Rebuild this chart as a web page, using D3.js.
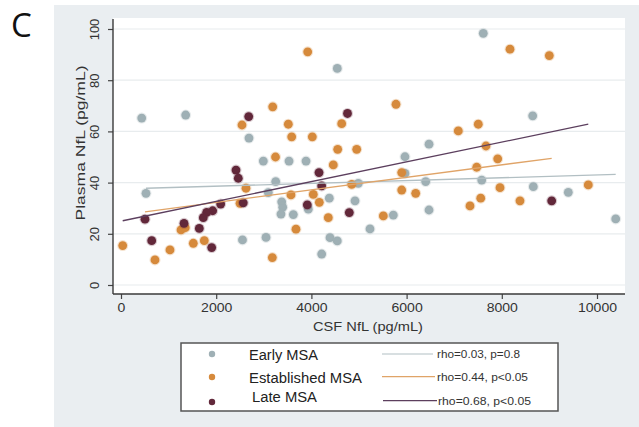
<!DOCTYPE html>
<html>
<head>
<meta charset="utf-8">
<script src="https://cdn.jsdelivr.net/npm/d3@7"></script>
<style>
  html, body { margin: 0; padding: 0; background: #ffffff; }
  svg { display: block; font-family: "Liberation Sans", Arial, sans-serif; }
</style>
</head>
<body>
<svg id="chart" width="639" height="427"></svg>
<script>
// CSF NfL (x, pg/mL) against plasma NfL (y, pg/mL), one list per disease stage
const earlyMSA = [
  [435, 65.2], [1359, 66.4], [525, 35.8], [2689, 57.4], [4544, 84.6], [7611, 98.3],
  [8649, 66.1], [6471, 55.0], [5966, 50.1], [2990, 48.4], [3530, 48.4], [3887, 48.4],
  [3250, 40.4], [3095, 36.1], [3376, 32.5], [3397, 30.4], [3361, 27.7], [3620, 27.5],
  [3935, 29.6], [4376, 33.9], [4916, 32.9], [4986, 39.7], [5966, 43.6], [6401, 40.4],
  [6471, 29.3], [5721, 27.3], [5231, 21.9], [4391, 18.5], [4544, 17.2], [4216, 12.1],
  [2552, 17.6], [3046, 18.6], [7578, 41.0], [8662, 38.4], [9397, 36.2], [10393, 25.8]
];
const establishedMSA = [
  [3922, 91.1], [5777, 70.6], [4636, 63.0], [3515, 62.8], [3586, 57.9], [4019, 57.9],
  [4552, 53.0], [4952, 53.0], [3187, 69.6], [2542, 62.5], [3246, 50.0], [8172, 92.1],
  [8998, 89.6], [7086, 60.2], [7506, 62.8], [7668, 54.3], [7914, 49.3], [7473, 46.0],
  [7962, 38.0], [9817, 39.1], [7557, 33.9], [8382, 32.9], [7332, 30.9], [5897, 43.9],
  [5897, 37.1], [6191, 35.8], [5511, 27.0], [4847, 39.3], [4460, 46.9], [3571, 35.2],
  [4040, 35.4], [4166, 32.3], [4355, 26.3], [3676, 21.8], [3179, 10.7], [2626, 37.8],
  [2500, 31.9], [1261, 21.5], [1350, 22.4], [1750, 17.3], [1519, 16.3], [36, 15.4],
  [1029, 13.7], [714, 9.8]
];
const lateMSA = [
  [2683, 65.8], [4758, 67.0], [4160, 43.9], [4216, 38.7], [3914, 31.3], [4796, 28.3],
  [9048, 32.9], [2416, 44.9], [2464, 41.7], [2569, 32.1], [2094, 31.6], [1926, 29.0],
  [1800, 28.4], [1729, 26.3], [504, 25.7], [1324, 24.1], [1645, 22.1], [645, 17.3],
  [1905, 14.6]
];

// Linear fit segments: [x0, y0, x1, y1]
const fitEarly = [525, 37.8, 10393, 43.2];
const fitEstablished = [504, 28.6, 9048, 49.5];
const fitLate = [36, 25.1, 9817, 62.8];

const groupNames = ["Early MSA", "Established MSA", "Late MSA"];
const fitLabels = ["rho=0.03, p=0.8", "rho=0.44, p<0.05", "rho=0.68, p<0.05"];
const xTicks = [0, 2000, 4000, 6000, 8000, 10000];
const yTicks = [0, 20, 40, 60, 80, 100];

const colEarly = "#9fb0b5";
const colEst = "#d68a3c";
const colLate = "#62283a";
const lineEarly = "#b2bfc3";
const lineEst = "#e0a468";
const lineLate = "#5c3f5e";

const svg = d3.select("#chart");

// graph region and plot region
svg.append("rect").attr("x", 54).attr("y", 5).attr("width", 585).attr("height", 422).attr("fill", "#eaeef1");
const plot = { left: 113, right: 625, top: 18, bottom: 294 };
svg.append("rect").attr("x", plot.left).attr("y", plot.top)
  .attr("width", plot.right - plot.left).attr("height", plot.bottom - plot.top).attr("fill", "#ffffff");

const x = d3.scaleLinear().domain([0, 10000]).range([121, 597]);
const y = d3.scaleLinear().domain([0, 100]).range([285, 29]);

// horizontal grid
svg.append("g").selectAll("line").data(yTicks).join("line")
  .attr("x1", plot.left).attr("x2", plot.right)
  .attr("y1", d => y(d)).attr("y2", d => y(d))
  .attr("stroke", "#e8ecee").attr("stroke-width", 1.2);

// y axis
const yAxis = svg.append("g").attr("transform", `translate(${plot.left},0)`)
  .call(d3.axisLeft(y).tickValues(yTicks).tickSize(5).tickSizeOuter(0));
yAxis.select(".domain").remove();
yAxis.selectAll(".tick line").attr("stroke", "#444").attr("stroke-width", 1.2);
yAxis.selectAll(".tick text")
  .attr("x", 0).attr("dy", "0.35em")
  .attr("transform", "translate(-18,0) rotate(-90)")
  .attr("text-anchor", "middle")
  .attr("textLength", d => String(d).length * 7.2).attr("lengthAdjust", "spacingAndGlyphs")
  .attr("fill", "#333").style("font-size", "12px").style("font-family", "Liberation Sans, Arial, sans-serif");

// x axis
const xAxis = svg.append("g").attr("transform", `translate(0,${plot.bottom})`)
  .call(d3.axisBottom(x).tickValues(xTicks).tickSize(5).tickSizeOuter(0).tickFormat(d3.format("d")));
xAxis.select(".domain").remove();
xAxis.selectAll(".tick line").attr("stroke", "#444").attr("stroke-width", 1.2);
xAxis.selectAll(".tick text").attr("y", 9).attr("dy", "0.71em")
  .attr("textLength", d => String(d).length * 7.8).attr("lengthAdjust", "spacingAndGlyphs")
  .attr("fill", "#333").style("font-size", "13px").style("font-family", "Liberation Sans, Arial, sans-serif");

svg.append("line").attr("x1", plot.left).attr("x2", plot.left).attr("y1", plot.top + 1).attr("y2", plot.bottom)
  .attr("stroke", "#3a3a3a").attr("stroke-width", 1.4);
svg.append("line").attr("x1", plot.left).attr("x2", plot.right).attr("y1", plot.bottom).attr("y2", plot.bottom)
  .attr("stroke", "#3a3a3a").attr("stroke-width", 1.4);

// axis titles
svg.append("text").attr("transform", "translate(80,143) rotate(-90)").attr("dy", "0.35em")
  .attr("text-anchor", "middle").attr("fill", "#333").style("font-size", "13px")
  .attr("textLength", 155).attr("lengthAdjust", "spacingAndGlyphs").text("Plasma NfL (pg/mL)");
svg.append("text").attr("x", 368).attr("y", 326).attr("dy", "0.35em")
  .attr("text-anchor", "middle").attr("fill", "#333").style("font-size", "13.5px")
  .attr("textLength", 110).attr("lengthAdjust", "spacingAndGlyphs").text("CSF NfL (pg/mL)");

// points
function drawPoints(data, color) {
  svg.append("g").selectAll("circle").data(data).join("circle")
    .attr("cx", d => x(d[0])).attr("cy", d => y(d[1])).attr("r", 4.4)
    .attr("fill", color)
    .attr("stroke", d3.color(color).copy({ opacity: 0.25 })).attr("stroke-width", 2.2);
}
drawPoints(earlyMSA, colEarly);
drawPoints(establishedMSA, colEst);
drawPoints(lateMSA, colLate);

// fit lines
function drawFit(f, color, w) {
  svg.append("line")
    .attr("x1", x(f[0])).attr("y1", y(f[1])).attr("x2", x(f[2])).attr("y2", y(f[3]))
    .attr("stroke", color).attr("stroke-width", w);
}
drawFit(fitEarly, lineEarly, 1.3);
drawFit(fitEstablished, lineEst, 1.3);
drawFit(fitLate, lineLate, 1.3);

// panel letter
svg.append("text").attr("x", 11).attr("y", 37).attr("fill", "#111")
  .style("font-family", "Open Sans, Liberation Sans, sans-serif").style("font-size", "33px").text("C");

// legend
const lg = svg.append("g");
lg.append("rect").attr("x", 181).attr("y", 343).attr("width", 377).attr("height", 68)
  .attr("fill", "#ffffff").attr("stroke", "#555").attr("stroke-width", 1.5);
const markerCols = [colEarly, colEst, colLate];
const lineCols = [lineEarly, lineEst, lineLate];
const rowMarkY = [354, 377, 402];
const rowTextY = [355, 378, 397];
const rowLineY = [354, 376.7, 400.7];
const lineX0 = [382, 382, 383];
const lineX1 = [433, 435, 437];
const labX = [437, 437, 438];
const nameLen = [69, 113, 65];
const labLen = [83, 91, 93];
groupNames.forEach((name, i) => {
  lg.append("circle").attr("cx", 212).attr("cy", rowMarkY[i]).attr("r", 3.2).attr("fill", markerCols[i]);
  lg.append("text").attr("x", i === 2 ? 252 : 249).attr("y", rowTextY[i]).attr("dy", "0.35em")
    .attr("fill", "#222").style("font-size", "14px")
    .attr("textLength", nameLen[i]).attr("lengthAdjust", "spacingAndGlyphs").text(name);
  lg.append("line").attr("x1", lineX0[i]).attr("x2", lineX1[i]).attr("y1", rowLineY[i]).attr("y2", rowLineY[i])
    .attr("stroke", lineCols[i]).attr("stroke-width", 1.2);
  lg.append("text").attr("x", labX[i]).attr("y", rowLineY[i]).attr("dy", "0.35em")
    .attr("fill", "#333").style("font-size", "11.5px")
    .attr("textLength", labLen[i]).attr("lengthAdjust", "spacingAndGlyphs").text(fitLabels[i]);
});
</script>
</body>
</html>
